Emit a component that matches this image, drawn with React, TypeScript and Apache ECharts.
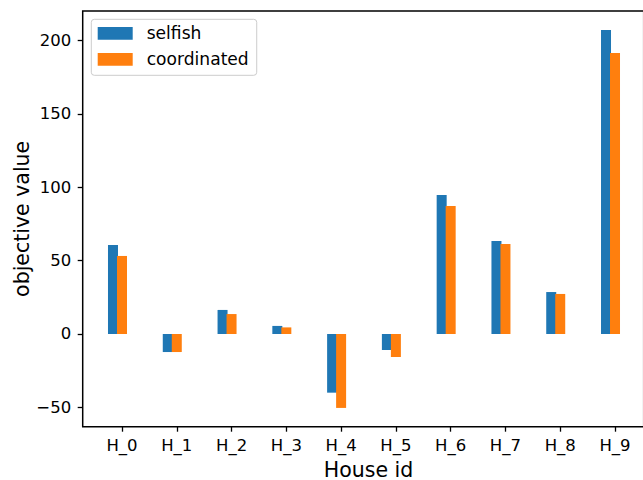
import React, { useEffect, useRef } from "react";
import * as echarts from "echarts";

const houses = ["H_0", "H_1", "H_2", "H_3", "H_4", "H_5", "H_6", "H_7", "H_8", "H_9"];
const selfish = [60.7, -12.3, 16.4, 5.5, -40.0, -10.9, 94.8, 63.4, 28.6, 207.3];
const coordinated = [53.2, -12.3, 13.6, 4.5, -50.4, -15.7, 87.3, 61.4, 27.3, 191.6];
const yTicks = [-50, 0, 50, 100, 150, 200];
const yMin = -63.2;
const yMax = 220.2;

const FONT = "DejaVu Sans";

export default function App() {
  const ref = useRef<HTMLDivElement>(null);
  useEffect(() => {
    if (!ref.current) return;
    const chart = echarts.init(ref.current, null, { renderer: "svg" });
    const fmt = (v: number) => (v < 0 ? "\u2212" + Math.abs(v) : String(v));
    chart.setOption({
      animation: false,
      backgroundColor: "#ffffff",
      grid: [
        {
          left: 94.6,
          right: 0.6,
          top: 11,
          bottom: 53.3,
          containLabel: false,
          outerBoundsMode: "none",
        },
        {
          left: 82.7,
          width: 561,
          top: 11,
          bottom: 53.3,
          show: true,
          borderColor: "#000",
          borderWidth: 1.5,
          backgroundColor: "transparent",
          outerBoundsMode: "none",
          z: 10,
        },
      ],
      legend: {
        data: ["selfish", "coordinated"],
        orient: "vertical",
        left: 91.3,
        top: 19.3,
        padding: [5.5, 8, 7.5, 6.4],
        itemWidth: 35,
        itemHeight: 12.7,
        itemGap: 9,
        icon: "rect",
        backgroundColor: "#ffffff",
        borderColor: "#cccccc",
        borderWidth: 1,
        borderRadius: 3,
        textStyle: {
          fontFamily: FONT,
          fontSize: 17.1,
          color: "#000",
          lineHeight: 17,
          padding: [0, 0, 0, 9],
        },
        z: 20,
      },
      xAxis: [
        {
          type: "category",
          gridIndex: 0,
          data: houses,
          boundaryGap: true,
          axisLine: { show: false, onZero: false },
          axisTick: { show: true, alignWithLabel: true, length: 5, lineStyle: { color: "#000", width: 1.3 } },
          axisLabel: { fontFamily: FONT, fontSize: 16.5, color: "#000", margin: 10 },
          name: "House id",
          nameLocation: "middle",
          nameGap: 32.5,
          nameMoveOverlap: false,
          nameTextStyle: { fontFamily: FONT, fontSize: 20.5, color: "#000" },
          splitLine: { show: false },
        },
        {
          type: "value",
          gridIndex: 1,
          min: 0,
          max: 1,
          show: false,
        },
      ],
      yAxis: [
        {
          type: "value",
          gridIndex: 0,
          min: yMin,
          max: yMax,
          show: false,
          splitLine: { show: false },
        },
        {
          type: "value",
          gridIndex: 1,
          min: yMin,
          max: yMax,
          axisLine: { show: false, onZero: false },
          axisTick: {
            show: true,
            length: 5,
            customValues: yTicks,
            lineStyle: { color: "#000", width: 1.3 },
          },
          axisLabel: {
            customValues: yTicks,
            formatter: fmt,
            fontFamily: FONT,
            fontSize: 16.5,
            color: "#000",
            margin: 11.5,
          },
          splitLine: { show: false },
          name: "objective value",
          nameLocation: "middle",
          nameRotate: 90,
          nameGap: 50,
          nameMoveOverlap: false,
          nameTextStyle: { fontFamily: FONT, fontSize: 20.5, color: "#000" },
        },
      ],
      series: [
        {
          name: "selfish",
          type: "bar",
          xAxisIndex: 0,
          yAxisIndex: 0,
          data: selfish,
          barWidth: 10,
          barGap: "-10%",
          itemStyle: { color: "#1f77b4" },
        },
        {
          name: "coordinated",
          type: "bar",
          xAxisIndex: 0,
          yAxisIndex: 0,
          data: coordinated,
          barWidth: 10,
          barGap: "-10%",
          itemStyle: { color: "#ff7f0e" },
        },
        {
          name: "spacer",
          type: "bar",
          xAxisIndex: 0,
          yAxisIndex: 0,
          data: houses.map(() => null),
          barWidth: 10,
          barGap: "-10%",
          itemStyle: { color: "transparent" },
        },
      ],
    });
    return () => chart.dispose();
  }, []);
  return (
    <div
      ref={ref}
      style={{ position: "fixed", left: 0, top: 0, width: 643, height: 480 }}
    />
  );
}
